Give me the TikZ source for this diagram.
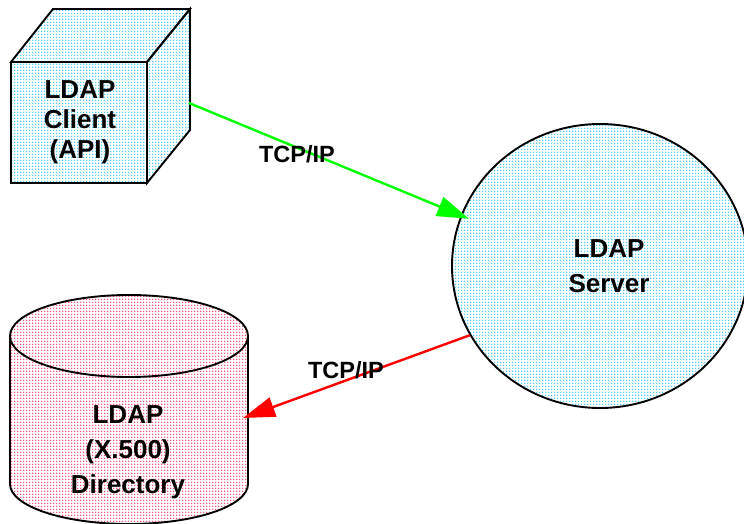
\documentclass[tikz,border=0pt]{standalone}
\usepackage{fontspec}
\setmainfont{Liberation Sans}
\usetikzlibrary{shapes.geometric,arrows.meta,patterns}
\pgfdeclarepatternformonly{bigdots}{\pgfqpoint{-1pt}{-1pt}}{\pgfqpoint{2pt}{2pt}}{\pgfqpoint{3pt}{3pt}}{\pgfpathcircle{\pgfqpoint{0pt}{0pt}}{0.8pt}\pgfusepath{fill}}
\definecolor{dotblue}{RGB}{0,190,250}
\definecolor{dotred}{RGB}{250,20,70}
\definecolor{lgreen}{RGB}{0,255,0}
\definecolor{lred}{RGB}{255,0,0}
\begin{document}
\begin{tikzpicture}[x=1pt,y=1pt,
  outline/.style={draw=black,line width=1.9pt,line join=miter},
  bluefill/.style={pattern=bigdots,pattern color=dotblue},
  redfill/.style={pattern=bigdots,pattern color=dotred},
  boxtext/.style={font=\fontsize{26}{30}\selectfont\bfseries,align=center},
  roundtext/.style={font=\fontsize{26}{35}\selectfont\bfseries,align=center},
  linklabel/.style={font=\fontsize{23.5}{27}\selectfont\bfseries},
  greenlink/.style={draw=lgreen,line width=2.4pt,-{Triangle[length=32pt,width=20pt]}},
  redlink/.style={draw=lred,line width=2.4pt,-{Triangle[length=32pt,width=20pt]}}]
\useasboundingbox (0,0) rectangle (744,523);
\fill[white] (0,0) rectangle (744,523);

% cube (LDAP client)
\path[bluefill,outline] (11,461) -- (53,514) -- (190,514) -- (147,461) -- cycle;
\path[bluefill,outline] (147,461) -- (190,514) -- (190,393) -- (147,340) -- cycle;
\node[bluefill,outline,rectangle,minimum width=136pt,minimum height=121pt,inner sep=0pt] (client) at (79,400.5) {};
\node[boxtext] (clientlabel) at (80,401) {LDAP\\Client\\(API)};
\coordinate (cubeside) at (189,420);

% server
\node[bluefill,outline,ellipse,minimum width=296pt,minimum height=284pt,inner sep=0pt] (server) at (600,257) {};
\node[roundtext] (serverlabel) at (609,257) {LDAP\\Server};

% directory cylinder
\path[redfill] (10,187) -- (10,39) arc[start angle=180,end angle=360,x radius=119,y radius=40] -- (248,187) arc[start angle=0,end angle=180,x radius=119,y radius=41] -- cycle;
\draw[outline] (10,187) -- (10,39) arc[start angle=180,end angle=360,x radius=119,y radius=40] -- (248,187);
\draw[outline] (129,187) ellipse[x radius=119,y radius=41];
\node[roundtext] (dirlabel) at (128,71) {LDAP\\(X.500)\\Directory};
\coordinate (dirside) at (243,105);

% connectors
\draw[greenlink,shorten >=-9pt] (cubeside) -- (server.160);
\draw[redlink] (server.208) -- (dirside);
\node[linklabel] (tcp1) at (297,369) {TCP/IP};
\node[linklabel] (tcp2) at (346,153) {TCP/IP};
\end{tikzpicture}
\end{document}
